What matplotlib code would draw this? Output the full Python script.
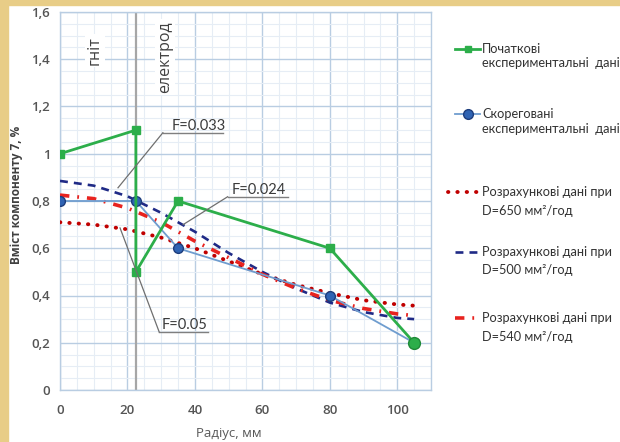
import matplotlib
matplotlib.use("Agg")
import matplotlib.pyplot as plt
from matplotlib.lines import Line2D
from matplotlib.patches import Rectangle
from matplotlib.ticker import MultipleLocator, FuncFormatter

# ---------------- data ----------------
init_x = [0, 22.5, 22.5, 35, 80, 105]
init_y = [1.0, 1.1, 0.5, 0.8, 0.6, 0.2]

corr_x = [0, 22.5, 35, 80, 105]
corr_y = [0.8, 0.8, 0.6, 0.4, 0.2]

calc_x = [0, 10, 20, 30, 40, 50, 60, 70, 80, 90, 100, 105]
calc_650 = [0.71, 0.70, 0.68, 0.645, 0.60, 0.545, 0.49, 0.445, 0.41, 0.38, 0.362, 0.357]
calc_500 = [0.885, 0.865, 0.82, 0.75, 0.67, 0.58, 0.50, 0.43, 0.37, 0.33, 0.305, 0.30]
calc_540 = [0.825, 0.81, 0.77, 0.71, 0.63, 0.56, 0.49, 0.43, 0.38, 0.345, 0.322, 0.315]

electrode_x = 22.5

legend_labels = [
    "Початкові\nекспериментальні  дані",
    "Скореговані\nекспериментальні  дані",
    "Розрахункові дані при\nD=650 мм²/год",
    "Розрахункові дані при\nD=500 мм²/год",
    "Розрахункові дані при\nD=540 мм²/год",
]

# label, pointed-to data point, underline start x, underline end x, underline y, text centre x
ann_labels = ["F=0.033", "F=0.024", "F=0.05"]
ann_points = [(17.2, 0.856), (36.5, 0.70), (17.8, 0.686)]
ann_lines = [(30.5, 48.4, 1.089), (49.7, 67.5, 0.818), (29.4, 43.9, 0.246)]
ann_text_x = [41.0, 58.8, 37.0]

# ---------------- figure ----------------
W, H = 620, 442
fig = plt.figure(figsize=(W / 100, H / 100), dpi=100)
fig.patch.set_facecolor("white")

gold = "#e8cd87"
fig.add_artist(Rectangle((0, 0), 8 / W, 1, transform=fig.transFigure, color=gold, zorder=0))
fig.add_artist(Rectangle((0, 1 - 5 / H), 1, 5 / H, transform=fig.transFigure, color=gold, zorder=0))

L, R, T, B = 60, 431, 12, 390
ax = fig.add_axes([L / W, 1 - B / H, (R - L) / W, (B - T) / H])
ax.set_xlim(0, 110)
ax.set_ylim(0, 1.6)

ax.xaxis.set_major_locator(MultipleLocator(20))
ax.xaxis.set_minor_locator(MultipleLocator(5))
ax.yaxis.set_major_locator(MultipleLocator(0.2))
ax.yaxis.set_minor_locator(MultipleLocator(0.05))
ax.grid(which="major", color="#b9cde2", lw=1.0, zorder=0)
ax.grid(which="minor", color="#e6edf5", lw=0.8, zorder=0)
ax.set_axisbelow(True)
for s in ax.spines.values():
    s.set_color("#b9cde2")
    s.set_linewidth(1.0)

def yfmt(v, p):
    if abs(v) < 1e-9:
        return "0"
    s = f"{v:.1f}".replace(".", ",")
    if s.endswith(",0"):
        s = s[:-2]
    return s

ax.yaxis.set_major_formatter(FuncFormatter(yfmt))
ax.xaxis.set_major_formatter(FuncFormatter(lambda v, p: f"{int(v)}" if v <= 100 else ""))
ax.tick_params(which="both", length=0, colors="#555555", pad=7)
ax.tick_params(axis="x", pad=10)
for lab in ax.get_xticklabels() + ax.get_yticklabels():
    lab.set_fontfamily("Open Sans")
    lab.set_fontsize(9.5)
    lab.set_fontweight("semibold")

# electrode line
ax.axvline(electrode_x, color="#a6a6a6", lw=1.6, zorder=1)

# curves
ax.plot(calc_x, calc_650, color="#c00000", lw=2.8, ls=(0, (0.1, 2.3)),
        dash_capstyle="round", zorder=3)
ax.plot(calc_x, calc_500, color="#1f2a86", lw=1.9, ls=(0, (3.0, 2.3)), zorder=3)
ax.plot(calc_x, calc_540, color="#e8231f", lw=2.6, ls=(0, (2.6, 2.2, 0.5, 2.2)), zorder=3)

ax.plot(corr_x, corr_y, color="#6f9dcf", lw=1.3, marker="o", ms=7,
        mfc="#2f63b3", mec="#1d3d7c", mew=1.0, zorder=4)
ax.plot(init_x, init_y, color="#2cae4a", lw=2.0, marker="s", ms=5.5,
        mfc="#2cae4a", mec="#2cae4a", zorder=5)
ax.plot(init_x[-1:], init_y[-1:], color="#2cae4a", marker="o", ms=8.5, ls="none",
        mec="#1f8a38", zorder=6)

# annotations
for txt, (px, py), (ux0, ux1, uy), tx in zip(ann_labels, ann_points, ann_lines, ann_text_x):
    ax.text(tx, uy + 0.028, txt, fontsize=10.5, family="Lato", color="#3a3a3a",
            ha="center", va="center", zorder=7)
    ax.plot([ux0, ux1], [uy, uy], color="#7f7f7f", lw=1.0, zorder=7)
    ax.plot([ux0, px], [uy, py], color="#6f6f6f", lw=0.9, zorder=7)

# vertical labels
ax.text(10.4, 1.436, "гніт", rotation=90, ha="center", va="center", fontsize=11.5,
        family="Open Sans", color="#404040", zorder=6,
        bbox=dict(fc="white", ec="none", pad=1.5))
ax.text(31.2, 1.41, "електрод", rotation=90, ha="center", va="center", fontsize=11.5,
        family="Open Sans", color="#404040", zorder=6,
        bbox=dict(fc="white", ec="none", pad=1.5))

# axis labels
fig.text(17 / W, 1 - 195 / H, "Вміст компоненту 7, %", rotation=90, ha="center",
         va="center", fontsize=8.5, weight="bold", family="Open Sans", color="#404040")
fig.text(229 / W, 1 - 433 / H, "Радіус, мм", ha="center", va="center", fontsize=9.5,
         family="Open Sans", color="#595959")

# legend (manual)
def fx(px):
    return px / W

def fy(py):
    return 1 - py / H

handles = [
    dict(color="#2cae4a", lw=2.0, marker="s", ms=5, mfc="#2cae4a", mec="#2cae4a"),
    dict(color="#6f9dcf", lw=1.3, marker="o", ms=7, mfc="#2f63b3", mec="#1d3d7c"),
    dict(color="#c00000", lw=2.8, ls=(0, (0.1, 2.3)), dash_capstyle="round"),
    dict(color="#1f2a86", lw=1.9, ls=(0, (3.0, 2.3))),
    dict(color="#e8231f", lw=2.6, ls=(0, (2.6, 2.2, 0.5, 2.2))),
]
rows = [49, 114, 192, 252, 318]
line_gap = [14, 15, 19, 18, 19]
for i, (h, lab) in enumerate(zip(handles, legend_labels)):
    yy = rows[i]
    x0, x1 = (455, 480) if i != 2 else (448, 477)
    ln = Line2D([fx(x0), fx((x0 + x1) / 2), fx(x1)], [fy(yy)] * 3,
                transform=fig.transFigure, **h)
    if "marker" in h:
        ln.set_markevery([1])
    fig.add_artist(ln)
    l1, l2 = lab.split("\n")
    fig.text(fx(482), fy(yy), l1, ha="left", va="center", fontsize=9.2,
             family="Lato", color="#333333")
    fig.text(fx(482), fy(yy + line_gap[i]), l2, ha="left", va="center", fontsize=9.2,
             family="Lato", color="#333333")

fig.savefig("out.png", dpi=100, facecolor=fig.get_facecolor())
